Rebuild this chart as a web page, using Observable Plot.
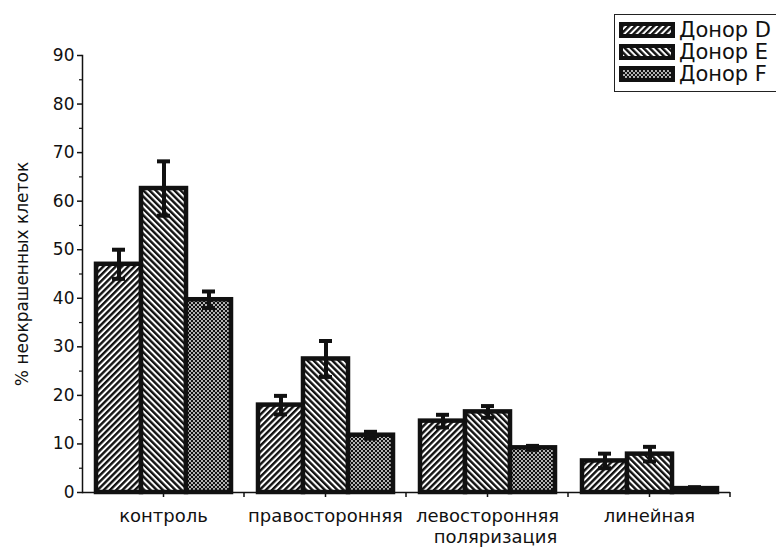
<!DOCTYPE html>
<html><head><meta charset="utf-8">
<script src="https://cdn.jsdelivr.net/npm/d3@7"></script>
<script src="https://cdn.jsdelivr.net/npm/@observablehq/plot@0.6"></script>
<style>
html,body{margin:0;padding:0;background:#fff}
body{overflow:hidden;width:776px;height:554px;position:relative;font-family:"DejaVu Sans",sans-serif}
#chart{position:absolute;left:0;top:0}
#legend{position:absolute;left:614px;top:14px;width:180px;height:78px;border:1.5px solid #222;background:#fff;box-sizing:border-box}
.row{position:absolute;left:4px;height:22px;display:flex;align-items:center;font-size:21px;color:#111;white-space:nowrap}
.row svg{margin-right:4px}
</style></head><body><div id="chart"></div><div id="legend"></div>
<script>
const groups = ["контроль", "правосторонняя", "левосторонняя", "линейная"];
const donors = ["D", "E", "F"];
const donorLabels = ["Донор D", "Донор E", "Донор F"];
const valuesD = [47.0, 18.0, 14.7, 6.5];
const valuesE = [62.6, 27.5, 16.6, 7.9];
const valuesF = [39.7, 11.8, 9.2, 0.8];
const errD = [3.0, 1.9, 1.3, 1.5];
const errE = [5.6, 3.7, 1.2, 1.5];
const errF = [1.7, 0.7, 0.4, 0.3];
const yTicks = [0, 10, 20, 30, 40, 50, 60, 70, 80, 90];
const yMinorTicks = [5, 15, 25, 35, 45, 55, 65, 75, 85];
const yLabel = "% неокрашенных клеток";
const xTitle = "поляризация";
const xTitleGroup = "левосторонняя";

const vals = {D: valuesD, E: valuesE, F: valuesF};
const errs = {D: errD, E: errE, F: errF};
const rows = [];
groups.forEach((g, i) => donors.forEach(dn => {
  rows.push({group: g, donor: dn, value: vals[dn][i], lo: vals[dn][i] - errs[dn][i], hi: vals[dn][i] + errs[dn][i]});
}));

const barMarks = donors.map(dn => Plot.barY(rows.filter(r => r.donor === dn), {
  fx: "group", x: "donor", y: "value", fill: `url(#pat${dn})`, stroke: "#111", strokeWidth: 4.5
}));

const plot = Plot.plot({
  width: 776, height: 554,
  marginTop: 55, marginBottom: 62, marginLeft: 81, marginRight: 46,
  style: {fontFamily: "'DejaVu Sans', sans-serif", fontSize: "17px", color: "#111", background: "transparent"},
  fx: {domain: groups, padding: 0, label: null},
  x: {domain: donors, paddingInner: 0, paddingOuter: 0.3, axis: null},
  y: {domain: [0, 90], label: null},
  marks: [
    ...barMarks,
    Plot.ruleX(rows, {fx: "group", x: "donor", y1: "lo", y2: "hi", stroke: "#111", strokeWidth: 4}),
    Plot.tickY(rows, {fx: "group", x: "donor", y: "hi", insetLeft: 16, insetRight: 16, stroke: "#111", strokeWidth: 4}),
    Plot.tickY(rows, {fx: "group", x: "donor", y: "lo", insetLeft: 16, insetRight: 16, stroke: "#111", strokeWidth: 4}),
    Plot.ruleY([0], {stroke: "#111", strokeWidth: 1.5}),
    Plot.frame({anchor: "left", facetAnchor: "left", stroke: "#111", strokeWidth: 1.5}),
    Plot.axisY({ticks: yTicks, tickSize: 5, tickPadding: 3, strokeWidth: 1.5, label: yLabel, labelAnchor: "center", labelArrow: "none", labelOffset: 67, fontSize: 17}),
    Plot.axisY({ticks: yMinorTicks, tickSize: 3, strokeWidth: 1.2, tickFormat: () => "", label: null}),
    Plot.axisFx({anchor: "bottom", tickSize: 5, tickPadding: 12, strokeWidth: 1.5, label: null, fontSize: 18}),
    Plot.text([{g: xTitleGroup, t: xTitle}], {fx: "g", text: "t", frameAnchor: "bottom", dy: 50, dx: 8, fontSize: 18, fill: "#111"})
  ]
});

// patterns
const svg = d3.select(plot);
const defs = svg.insert("defs", ":first-child");
function hatch(id, angle) {
  const p = defs.append("pattern").attr("id", id).attr("patternUnits", "userSpaceOnUse")
    .attr("width", 4.4).attr("height", 4.4).attr("patternTransform", `rotate(${angle})`);
  p.append("rect").attr("width", 4.4).attr("height", 4.4).attr("fill", "#fff");
  p.append("rect").attr("width", 2.4).attr("height", 4.4).attr("fill", "#111");
}
hatch("patD", 45);
hatch("patE", -45);
const pf = defs.append("pattern").attr("id", "patF").attr("patternUnits", "userSpaceOnUse").attr("width", 4).attr("height", 4);
pf.append("rect").attr("width", 4).attr("height", 4).attr("fill", "#111");
pf.append("circle").attr("cx", 1).attr("cy", 1).attr("r", 0.9).attr("fill", "#fff");
pf.append("circle").attr("cx", 3).attr("cy", 3).attr("r", 0.9).attr("fill", "#fff");

// boundary ticks on the x axis between groups
const fxs = plot.scale("fx"), ys = plot.scale("y");
const y0 = ys.apply(0);
const edges = groups.slice(1).map(g => fxs.apply(g)).concat([fxs.apply(groups[groups.length - 1]) + fxs.bandwidth]);
svg.append("g").selectAll("line").data(edges).join("line")
  .attr("x1", d => d).attr("x2", d => d).attr("y1", y0).attr("y2", y0 + 5)
  .attr("stroke", "#111").attr("stroke-width", 1.5);

document.getElementById("chart").appendChild(plot);

// legend
const leg = document.getElementById("legend");
donors.forEach((dn, i) => {
  const row = document.createElement("div");
  row.className = "row";
  row.style.top = (4 + i * 22) + "px";
  row.innerHTML = `<svg width="56" height="16"><rect x="2" y="2" width="52" height="12" fill="url(#pat${dn})" stroke="#111" stroke-width="4"/></svg><span>${donorLabels[i]}</span>`;
  leg.appendChild(row);
});
</script>
</body></html>
